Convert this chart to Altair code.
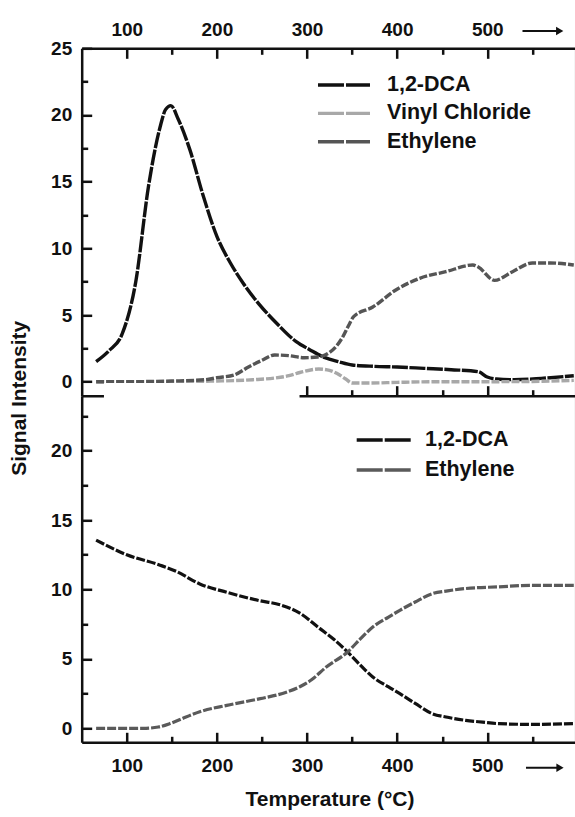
import altair as alt
import pandas as pd

# ---------------- data ----------------
# top panel
top_dca_t = [66, 80, 95, 110, 124, 137, 143, 149, 157, 170, 185, 200, 215, 229, 247, 266, 288, 303,
             320, 335, 350, 375, 400, 430, 460, 490, 500, 510, 530, 560, 596]
top_dca_v = [1.5, 2.3, 3.6, 7.5, 14.6, 19.1, 20.4, 20.7, 19.7, 17.4, 13.9, 10.9, 8.9, 7.4, 5.8, 4.4, 3.0, 2.4,
             1.8, 1.5, 1.25, 1.15, 1.1, 1.0, 0.9, 0.75, 0.35, 0.2, 0.15, 0.25, 0.45]
top_vc_t = [66, 100, 150, 200, 219, 240, 264, 280, 292, 313, 325, 333, 343, 350, 370, 400, 450, 500, 550, 596]
top_vc_v = [0.0, 0.0, 0.0, 0.05, 0.08, 0.15, 0.27, 0.45, 0.69, 0.95, 0.85, 0.63, 0.2, -0.1, -0.1, -0.05, 0.0, 0.0, 0.02, 0.1]
top_eth_t = [66, 100, 150, 187, 200, 219, 235, 250, 264, 280, 297, 312, 325, 333, 340, 346, 352, 373, 399,
             425, 454, 484, 490, 508, 528, 550, 570, 596]
top_eth_v = [0.0, 0.0, 0.05, 0.15, 0.3, 0.5, 1.1, 1.6, 2.0, 1.95, 1.8, 1.85, 2.2, 2.7, 3.4, 4.2, 4.9, 5.6, 6.9,
             7.75, 8.25, 8.75, 8.6, 7.6, 8.25, 8.9, 8.9, 8.75]
# bottom panel
bot_dca_t = [66, 100, 137, 155, 181, 211, 247, 270, 292, 314, 330, 345, 360, 373, 390, 403, 420, 439, 456,
             476, 495, 513, 550, 596]
bot_dca_v = [13.55, 12.5, 11.75, 11.3, 10.4, 9.8, 9.2, 8.9, 8.3, 7.2, 6.4, 5.5, 4.5, 3.7, 3.0, 2.5, 1.8, 1.06,
             0.8, 0.58, 0.45, 0.34, 0.29, 0.34]
bot_eth_t = [66, 90, 118, 135, 148, 165, 181, 211, 248, 277, 292, 305, 321, 345, 360, 373, 390, 403, 420,
             439, 456, 476, 513, 550, 596]
bot_eth_v = [0.0, 0.0, 0.0, 0.1, 0.35, 0.8, 1.2, 1.66, 2.14, 2.6, 3.0, 3.5, 4.4, 5.5, 6.5, 7.3, 8.0, 8.5, 9.1,
             9.7, 9.9, 10.07, 10.19, 10.3, 10.3]

top_series = ["1,2-DCA", "Vinyl Chloride", "Ethylene"]
top_colors = ["#111111", "#a8a8a8", "#555555"]
bot_series = ["1,2-DCA", "Ethylene"]
bot_colors = ["#111111", "#5a5a5a"]

x_major = [100, 200, 300, 400, 500]
x_minor = [150, 250, 350, 450, 550]
y_top_major = [0, 5, 10, 15, 20, 25]
y_bot_major = [0, 5, 10, 15, 20]
y_minor = [2.5, 7.5, 12.5, 17.5, 22.5]
mid_major = [300, 400, 500]
mid_minor = [350, 450, 550]

# ---------------- tables ----------------
def long(series, ts, vs):
    rows = []
    for s, t, v in zip(series, ts, vs):
        for a, b in zip(t, v):
            rows.append({"series": s, "T": a, "v": b})
    return pd.DataFrame(rows)

top_df = long(top_series, [top_dca_t, top_vc_t, top_eth_t], [top_dca_v, top_vc_v, top_eth_v])
bot_df = long(bot_series, [bot_dca_t, bot_eth_t], [bot_dca_v, bot_eth_v])
leg_top = pd.DataFrame({"series": top_series, "row": list(range(len(top_series)))})
leg_bot = pd.DataFrame({"series": bot_series, "row": list(range(len(bot_series)))})
mask_df = pd.DataFrame({"x0": [74.7], "x1": [291.7], "y0": [-0.1], "y1": [-1.4]})

# ---------------- layout ----------------
W, H = 493, 694
SPLIT = 347.4
FONT = "Liberation Sans"
XDOM = [50, 597]
TOP_Y = alt.Scale(domain=[-1.05, 25], range=[SPLIT, 0], nice=False, zero=False)
BOT_Y = alt.Scale(domain=[-1.0, 23.95], range=[H, SPLIT], nice=False, zero=False)
LBL = dict(labelFont=FONT, labelFontSize=19, labelFontWeight="bold", labelColor="#111",
           labelFlush=False, labelOverlap=False, grid=False, title=None,
           domainColor="#111", domainWidth=2.5, tickColor="#111", tickWidth=2.5)


def xs():
    return alt.Scale(domain=XDOM, nice=False, zero=False)


def ax(**kw):
    d = dict(LBL)
    d.update(kw)
    return alt.Axis(**d)


top_color = alt.Scale(domain=top_series, range=top_colors)
top_dash = alt.Scale(domain=top_series, range=[[16, 1.5], [8, 2], [8, 2]])
bot_color = alt.Scale(domain=bot_series, range=bot_colors)
bot_dash = alt.Scale(domain=bot_series, range=[[9, 2], [9, 2]])

# top panel lines with top x axis and left y axis (ticks pointing inward)
top_lines = alt.Chart(top_df).mark_line(strokeWidth=3.4, interpolate="monotone").encode(
    x=alt.X("T:Q", scale=xs(), axis=ax(orient="bottom", offset=-H, values=x_major, tickSize=10,
                                       labelPadding=-29.3, labelBaseline="middle")),
    y=alt.Y("v:Q", scale=TOP_Y, axis=ax(orient="right", offset=-W, values=y_top_major, tickSize=10,
                                        labelPadding=-20, labelAlign="right")),
    color=alt.Color("series:N", scale=top_color, legend=None),
    strokeDash=alt.StrokeDash("series:N", scale=top_dash, legend=None),
)
top_minor = alt.Chart(top_df).mark_line(opacity=0).encode(
    x=alt.X("T:Q", scale=xs(), axis=ax(orient="bottom", offset=-H, values=x_minor, tickSize=6,
                                       labels=False, domain=False)),
    y=alt.Y("v:Q", scale=TOP_Y, axis=ax(orient="right", offset=-W, values=y_minor, tickSize=6,
                                        labels=False, domain=False)),
)
# middle separating axis (bottom frame of the top panel)
mid_major_l = alt.Chart(top_df).mark_line(opacity=0).encode(
    x=alt.X("T:Q", scale=xs(), axis=ax(orient="top", offset=-SPLIT, values=mid_major, tickSize=10,
                                       labels=False)),
    y=alt.Y("v:Q", scale=TOP_Y, axis=None),
)
mid_minor_l = alt.Chart(top_df).mark_line(opacity=0).encode(
    x=alt.X("T:Q", scale=xs(), axis=ax(orient="top", offset=-SPLIT, values=mid_minor, tickSize=6,
                                       labels=False, domain=False)),
    y=alt.Y("v:Q", scale=TOP_Y, axis=None),
)
mask = alt.Chart(mask_df).mark_rect(color="white").encode(
    x=alt.X("x0:Q", scale=xs(), axis=None), x2="x1:Q",
    y=alt.Y("y0:Q", scale=TOP_Y, axis=None), y2="y1:Q",
)

# bottom panel lines with bottom x axis and left y axis
bot_lines = alt.Chart(bot_df).mark_line(strokeWidth=3.2, interpolate="monotone").encode(
    x=alt.X("T:Q", scale=xs(), axis=ax(orient="top", offset=-H, values=x_major, tickSize=10,
                                       labelPadding=-33.7, labelBaseline="middle")),
    y=alt.Y("v:Q", scale=BOT_Y, axis=ax(orient="right", offset=-W, values=y_bot_major, tickSize=10,
                                        labelPadding=-20, labelAlign="right")),
    color=alt.Color("series:N", scale=bot_color, legend=None),
    strokeDash=alt.StrokeDash("series:N", scale=bot_dash, legend=None),
)
bot_minor = alt.Chart(bot_df).mark_line(opacity=0).encode(
    x=alt.X("T:Q", scale=xs(), axis=ax(orient="top", offset=-H, values=x_minor, tickSize=6,
                                       labels=False, domain=False)),
    y=alt.Y("v:Q", scale=BOT_Y, axis=ax(orient="right", offset=-W, values=y_minor, tickSize=6,
                                        labels=False, domain=False)),
)

# legends
def legend(df, cscale, x0, x1, xt, y0, dy):
    base = alt.Chart(df).transform_calculate(ypx=f"{y0} + datum.row * {dy}")
    sym = base.mark_rule(strokeWidth=3.4, strokeDash=[26, 2]).encode(
        x=alt.value(x0), x2=alt.value(x1),
        y=alt.Y("ypx:Q", scale=None, axis=None),
        color=alt.Color("series:N", scale=cscale, legend=None),
    )
    txt = base.mark_text(align="left", baseline="middle", font=FONT, fontSize=21.5,
                         fontWeight="bold", color="#111").encode(
        x=alt.value(xt), y=alt.Y("ypx:Q", scale=None, axis=None), text="series:N")
    return [sym, txt]

leg_layers = legend(leg_top, top_color, 236.3, 288.3, 305.3, 36.7, 28.35) + \
    legend(leg_bot, bot_color, 275.0, 330.0, 343.3, 391.7, 30.0)

# arrows next to the axis labels
def arrow(x0, x1, y):
    shaft = alt.Chart(pd.DataFrame({"a": [0]})).mark_rule(strokeWidth=2, color="#111").encode(
        x=alt.value(x0), x2=alt.value(x1 - 6), y=alt.value(y))
    head = alt.Chart(pd.DataFrame({"a": [0]})).mark_point(
        shape="triangle-right", filled=True, size=70, color="#111", opacity=1).encode(
        x=alt.value(x1 - 5), y=alt.value(y))
    return [shaft, head]

arrows = arrow(440.8, 483.0, -17.3) + arrow(444.3, 483.3, 719.5)

# titles
ytitle = alt.Chart(pd.DataFrame({"t": ["Signal Intensity"]})).mark_text(
    angle=270, font=FONT, fontSize=21, fontWeight="bold", color="#111", baseline="middle").encode(
    x=alt.value(-61.7), y=alt.value(350), text="t:N")
xtitle = alt.Chart(pd.DataFrame({"t": ["Temperature (°C)"]})).mark_text(
    font=FONT, fontSize=21, fontWeight="bold", color="#111", baseline="middle").encode(
    x=alt.value(248.3), y=alt.value(751.7), text="t:N")

chart = alt.layer(
    top_lines, top_minor, mid_major_l, mid_minor_l, bot_lines, bot_minor, mask,
    *leg_layers, *arrows, ytitle, xtitle,
).resolve_scale(
    x="independent", y="independent", color="independent", strokeDash="independent"
).properties(
    width=W, height=H,
    autosize=alt.AutoSizeParams(type="none"),
    padding={"left": 81.7, "top": 48.3, "right": 0, "bottom": 73},
).configure_view(stroke=None).configure(background="white")

chart.save("out.html", embed_options={"renderer": "svg", "actions": False})
